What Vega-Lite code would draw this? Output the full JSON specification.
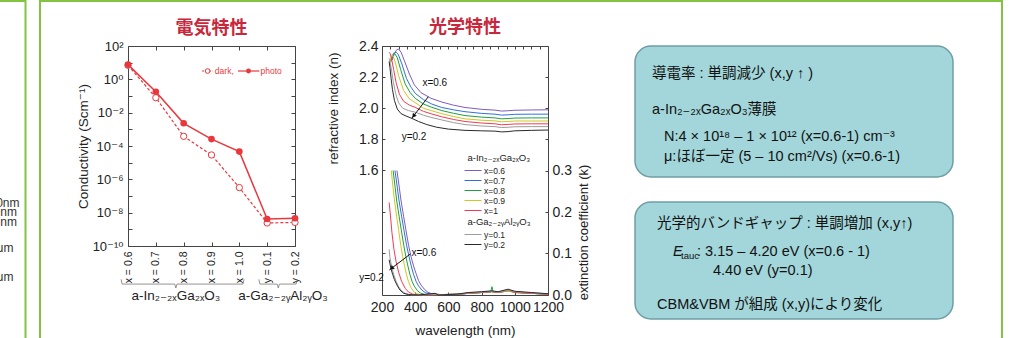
{
"$schema": "https://vega.github.io/schema/vega-lite/v6.json",
"background": "white",
"padding": {"left": -19, "top": 0, "right": 8, "bottom": -14},
"bounds": "flush",
"spacing": 14,
"config": {
  "view": {"stroke": null},
  "font": "Liberation Sans, DejaVu Sans, Noto Sans CJK JP",
  "axis": {"labelFont": "Liberation Sans, DejaVu Sans", "titleFont": "Liberation Sans, DejaVu Sans", "labelColor": "#222", "titleColor": "#222", "tickColor": "#444", "tickWidth": 1, "domain": false, "grid": false, "titleFontWeight": "normal", "labelFlush": false, "labelOverlap": false},
  "legend": {"labelFont": "Liberation Sans, DejaVu Sans", "titleFont": "Liberation Sans, DejaVu Sans"}
},
"datasets": {
  "nData": [
    {"s":"x=0.6","wl":262,"n":2.31},{"s":"x=0.6","wl":275,"n":2.355},{"s":"x=0.6","wl":290,"n":2.377},{"s":"x=0.6","wl":300,"n":2.38},{"s":"x=0.6","wl":315,"n":2.36},{"s":"x=0.6","wl":335,"n":2.305},{"s":"x=0.6","wl":365,"n":2.22},{"s":"x=0.6","wl":395,"n":2.15},{"s":"x=0.6","wl":435,"n":2.1},{"s":"x=0.6","wl":495,"n":2.064},{"s":"x=0.6","wl":560,"n":2.04},{"s":"x=0.6","wl":630,"n":2.02},{"s":"x=0.6","wl":700,"n":2.005},{"s":"x=0.6","wl":800,"n":1.993},{"s":"x=0.6","wl":880,"n":1.988},{"s":"x=0.6","wl":920,"n":1.982},{"s":"x=0.6","wl":960,"n":1.984},{"s":"x=0.6","wl":1000,"n":1.987},{"s":"x=0.6","wl":1100,"n":1.989},{"s":"x=0.6","wl":1200,"n":1.99},
    {"s":"x=0.7","wl":255,"n":2.3},{"s":"x=0.7","wl":266,"n":2.335},{"s":"x=0.7","wl":276,"n":2.355},{"s":"x=0.7","wl":285,"n":2.36},{"s":"x=0.7","wl":298,"n":2.345},{"s":"x=0.7","wl":318,"n":2.29},{"s":"x=0.7","wl":348,"n":2.19},{"s":"x=0.7","wl":375,"n":2.135},{"s":"x=0.7","wl":400,"n":2.096},{"s":"x=0.7","wl":450,"n":2.055},{"s":"x=0.7","wl":500,"n":2.027},{"s":"x=0.7","wl":560,"n":2.005},{"s":"x=0.7","wl":630,"n":1.99},{"s":"x=0.7","wl":700,"n":1.978},{"s":"x=0.7","wl":800,"n":1.967},{"s":"x=0.7","wl":880,"n":1.962},{"s":"x=0.7","wl":920,"n":1.956},{"s":"x=0.7","wl":960,"n":1.958},{"s":"x=0.7","wl":1000,"n":1.961},{"s":"x=0.7","wl":1100,"n":1.962},{"s":"x=0.7","wl":1200,"n":1.962},
    {"s":"x=0.8","wl":250,"n":2.3},{"s":"x=0.8","wl":260,"n":2.335},{"s":"x=0.8","wl":270,"n":2.353},{"s":"x=0.8","wl":278,"n":2.35},{"s":"x=0.8","wl":292,"n":2.325},{"s":"x=0.8","wl":312,"n":2.25},{"s":"x=0.8","wl":340,"n":2.155},{"s":"x=0.8","wl":370,"n":2.1},{"s":"x=0.8","wl":400,"n":2.064},{"s":"x=0.8","wl":450,"n":2.027},{"s":"x=0.8","wl":500,"n":2.006},{"s":"x=0.8","wl":560,"n":1.985},{"s":"x=0.8","wl":630,"n":1.968},{"s":"x=0.8","wl":700,"n":1.953},{"s":"x=0.8","wl":800,"n":1.943},{"s":"x=0.8","wl":880,"n":1.938},{"s":"x=0.8","wl":920,"n":1.932},{"s":"x=0.8","wl":960,"n":1.934},{"s":"x=0.8","wl":1000,"n":1.937},{"s":"x=0.8","wl":1100,"n":1.938},{"s":"x=0.8","wl":1200,"n":1.938},
    {"s":"x=0.9","wl":245,"n":2.29},{"s":"x=0.9","wl":252,"n":2.32},{"s":"x=0.9","wl":260,"n":2.34},{"s":"x=0.9","wl":268,"n":2.335},{"s":"x=0.9","wl":280,"n":2.295},{"s":"x=0.9","wl":300,"n":2.21},{"s":"x=0.9","wl":330,"n":2.115},{"s":"x=0.9","wl":365,"n":2.06},{"s":"x=0.9","wl":400,"n":2.036},{"s":"x=0.9","wl":450,"n":2.0},{"s":"x=0.9","wl":500,"n":1.984},{"s":"x=0.9","wl":560,"n":1.965},{"s":"x=0.9","wl":630,"n":1.947},{"s":"x=0.9","wl":700,"n":1.932},{"s":"x=0.9","wl":800,"n":1.923},{"s":"x=0.9","wl":880,"n":1.919},{"s":"x=0.9","wl":920,"n":1.913},{"s":"x=0.9","wl":960,"n":1.915},{"s":"x=0.9","wl":1000,"n":1.918},{"s":"x=0.9","wl":1100,"n":1.918},{"s":"x=0.9","wl":1200,"n":1.918},
    {"s":"x=1","wl":243,"n":2.36},{"s":"x=1","wl":250,"n":2.35},{"s":"x=1","wl":258,"n":2.315},{"s":"x=1","wl":270,"n":2.25},{"s":"x=1","wl":285,"n":2.165},{"s":"x=1","wl":305,"n":2.09},{"s":"x=1","wl":330,"n":2.045},{"s":"x=1","wl":365,"n":2.02},{"s":"x=1","wl":400,"n":2.006},{"s":"x=1","wl":450,"n":1.98},{"s":"x=1","wl":500,"n":1.963},{"s":"x=1","wl":560,"n":1.945},{"s":"x=1","wl":630,"n":1.928},{"s":"x=1","wl":700,"n":1.915},{"s":"x=1","wl":800,"n":1.905},{"s":"x=1","wl":880,"n":1.9},{"s":"x=1","wl":920,"n":1.894},{"s":"x=1","wl":960,"n":1.896},{"s":"x=1","wl":1000,"n":1.899},{"s":"x=1","wl":1100,"n":1.9},{"s":"x=1","wl":1200,"n":1.9},
    {"s":"y=0.1","wl":243,"n":2.32},{"s":"y=0.1","wl":250,"n":2.29},{"s":"y=0.1","wl":258,"n":2.24},{"s":"y=0.1","wl":268,"n":2.17},{"s":"y=0.1","wl":282,"n":2.095},{"s":"y=0.1","wl":300,"n":2.035},{"s":"y=0.1","wl":325,"n":2.0},{"s":"y=0.1","wl":360,"n":1.985},{"s":"y=0.1","wl":400,"n":1.975},{"s":"y=0.1","wl":450,"n":1.955},{"s":"y=0.1","wl":500,"n":1.94},{"s":"y=0.1","wl":560,"n":1.925},{"s":"y=0.1","wl":630,"n":1.908},{"s":"y=0.1","wl":700,"n":1.895},{"s":"y=0.1","wl":800,"n":1.886},{"s":"y=0.1","wl":880,"n":1.882},{"s":"y=0.1","wl":920,"n":1.876},{"s":"y=0.1","wl":960,"n":1.878},{"s":"y=0.1","wl":1000,"n":1.881},{"s":"y=0.1","wl":1100,"n":1.882},{"s":"y=0.1","wl":1200,"n":1.882},
    {"s":"y=0.2","wl":243,"n":2.3},{"s":"y=0.2","wl":248,"n":2.26},{"s":"y=0.2","wl":255,"n":2.19},{"s":"y=0.2","wl":263,"n":2.12},{"s":"y=0.2","wl":275,"n":2.05},{"s":"y=0.2","wl":292,"n":1.995},{"s":"y=0.2","wl":315,"n":1.965},{"s":"y=0.2","wl":345,"n":1.95},{"s":"y=0.2","wl":380,"n":1.935},{"s":"y=0.2","wl":420,"n":1.915},{"s":"y=0.2","wl":470,"n":1.895},{"s":"y=0.2","wl":530,"n":1.878},{"s":"y=0.2","wl":600,"n":1.866},{"s":"y=0.2","wl":700,"n":1.858},{"s":"y=0.2","wl":800,"n":1.855},{"s":"y=0.2","wl":880,"n":1.853},{"s":"y=0.2","wl":920,"n":1.848},{"s":"y=0.2","wl":960,"n":1.85},{"s":"y=0.2","wl":1000,"n":1.855},{"s":"y=0.2","wl":1100,"n":1.858},{"s":"y=0.2","wl":1200,"n":1.86}
  ],
  "kData": [
    {"s":"x=0.6","wl":290,"k":0.3},{"s":"x=0.6","wl":304,"k":0.26},{"s":"x=0.6","wl":314,"k":0.229},{"s":"x=0.6","wl":330,"k":0.19},{"s":"x=0.6","wl":344,"k":0.157},{"s":"x=0.6","wl":360,"k":0.12},{"s":"x=0.6","wl":375,"k":0.092},{"s":"x=0.6","wl":390,"k":0.07},{"s":"x=0.6","wl":405,"k":0.052},{"s":"x=0.6","wl":420,"k":0.035},{"s":"x=0.6","wl":435,"k":0.024},{"s":"x=0.6","wl":455,"k":0.014},{"s":"x=0.6","wl":475,"k":0.007},{"s":"x=0.6","wl":500,"k":0.003},{"s":"x=0.6","wl":560,"k":0.001},{"s":"x=0.6","wl":650,"k":0.001},{"s":"x=0.6","wl":720,"k":0.004},{"s":"x=0.6","wl":800,"k":0.006},{"s":"x=0.6","wl":860,"k":0.008},{"s":"x=0.6","wl":900,"k":0.006},{"s":"x=0.6","wl":960,"k":0.01},{"s":"x=0.6","wl":1000,"k":0.007},{"s":"x=0.6","wl":1100,"k":0.004},{"s":"x=0.6","wl":1200,"k":0.002},
    {"s":"x=0.7","wl":278,"k":0.3},{"s":"x=0.7","wl":292,"k":0.26},{"s":"x=0.7","wl":302,"k":0.229},{"s":"x=0.7","wl":318,"k":0.19},{"s":"x=0.7","wl":332,"k":0.157},{"s":"x=0.7","wl":348,"k":0.12},{"s":"x=0.7","wl":363,"k":0.092},{"s":"x=0.7","wl":376,"k":0.07},{"s":"x=0.7","wl":390,"k":0.05},{"s":"x=0.7","wl":405,"k":0.033},{"s":"x=0.7","wl":420,"k":0.022},{"s":"x=0.7","wl":440,"k":0.012},{"s":"x=0.7","wl":460,"k":0.006},{"s":"x=0.7","wl":490,"k":0.002},{"s":"x=0.7","wl":560,"k":0.001},{"s":"x=0.7","wl":650,"k":0.001},{"s":"x=0.7","wl":720,"k":0.004},{"s":"x=0.7","wl":800,"k":0.006},{"s":"x=0.7","wl":860,"k":0.009},{"s":"x=0.7","wl":900,"k":0.006},{"s":"x=0.7","wl":960,"k":0.011},{"s":"x=0.7","wl":1000,"k":0.007},{"s":"x=0.7","wl":1100,"k":0.004},{"s":"x=0.7","wl":1200,"k":0.002},
    {"s":"x=0.8","wl":267,"k":0.3},{"s":"x=0.8","wl":279,"k":0.26},{"s":"x=0.8","wl":288,"k":0.229},{"s":"x=0.8","wl":303,"k":0.19},{"s":"x=0.8","wl":316,"k":0.157},{"s":"x=0.8","wl":331,"k":0.12},{"s":"x=0.8","wl":344,"k":0.092},{"s":"x=0.8","wl":356,"k":0.07},{"s":"x=0.8","wl":368,"k":0.05},{"s":"x=0.8","wl":381,"k":0.033},{"s":"x=0.8","wl":395,"k":0.021},{"s":"x=0.8","wl":412,"k":0.011},{"s":"x=0.8","wl":430,"k":0.005},{"s":"x=0.8","wl":460,"k":0.001},{"s":"x=0.8","wl":560,"k":0.001},{"s":"x=0.8","wl":650,"k":0.002},{"s":"x=0.8","wl":720,"k":0.004},{"s":"x=0.8","wl":800,"k":0.006},{"s":"x=0.8","wl":855,"k":0.007},{"s":"x=0.8","wl":862,"k":0.02},{"s":"x=0.8","wl":870,"k":0.007},{"s":"x=0.8","wl":900,"k":0.006},{"s":"x=0.8","wl":960,"k":0.01},{"s":"x=0.8","wl":1000,"k":0.006},{"s":"x=0.8","wl":1100,"k":0.004},{"s":"x=0.8","wl":1200,"k":0.002},
    {"s":"x=0.9","wl":256,"k":0.3},{"s":"x=0.9","wl":266,"k":0.26},{"s":"x=0.9","wl":275,"k":0.229},{"s":"x=0.9","wl":288,"k":0.19},{"s":"x=0.9","wl":300,"k":0.157},{"s":"x=0.9","wl":313,"k":0.12},{"s":"x=0.9","wl":325,"k":0.092},{"s":"x=0.9","wl":336,"k":0.07},{"s":"x=0.9","wl":347,"k":0.05},{"s":"x=0.9","wl":359,"k":0.033},{"s":"x=0.9","wl":372,"k":0.02},{"s":"x=0.9","wl":387,"k":0.01},{"s":"x=0.9","wl":403,"k":0.004},{"s":"x=0.9","wl":430,"k":0.001},{"s":"x=0.9","wl":560,"k":0.001},{"s":"x=0.9","wl":650,"k":0.002},{"s":"x=0.9","wl":720,"k":0.004},{"s":"x=0.9","wl":800,"k":0.006},{"s":"x=0.9","wl":860,"k":0.008},{"s":"x=0.9","wl":900,"k":0.006},{"s":"x=0.9","wl":960,"k":0.01},{"s":"x=0.9","wl":1000,"k":0.006},{"s":"x=0.9","wl":1100,"k":0.004},{"s":"x=0.9","wl":1200,"k":0.002},
    {"s":"x=1","wl":243,"k":0.223},{"s":"x=1","wl":250,"k":0.195},{"s":"x=1","wl":260,"k":0.15},{"s":"x=1","wl":272,"k":0.11},{"s":"x=1","wl":285,"k":0.08},{"s":"x=1","wl":300,"k":0.055},{"s":"x=1","wl":318,"k":0.033},{"s":"x=1","wl":340,"k":0.016},{"s":"x=1","wl":360,"k":0.007},{"s":"x=1","wl":385,"k":0.002},{"s":"x=1","wl":420,"k":0.0},{"s":"x=1","wl":560,"k":0.001},{"s":"x=1","wl":650,"k":0.002},{"s":"x=1","wl":720,"k":0.004},{"s":"x=1","wl":800,"k":0.006},{"s":"x=1","wl":860,"k":0.008},{"s":"x=1","wl":900,"k":0.006},{"s":"x=1","wl":960,"k":0.012},{"s":"x=1","wl":1000,"k":0.006},{"s":"x=1","wl":1100,"k":0.004},{"s":"x=1","wl":1200,"k":0.002},
    {"s":"y=0.1","wl":243,"k":0.11},{"s":"y=0.1","wl":248,"k":0.09},{"s":"y=0.1","wl":255,"k":0.075},{"s":"y=0.1","wl":262,"k":0.062},{"s":"y=0.1","wl":272,"k":0.048},{"s":"y=0.1","wl":285,"k":0.033},{"s":"y=0.1","wl":300,"k":0.02},{"s":"y=0.1","wl":320,"k":0.009},{"s":"y=0.1","wl":345,"k":0.003},{"s":"y=0.1","wl":380,"k":0.0},{"s":"y=0.1","wl":560,"k":0.001},{"s":"y=0.1","wl":650,"k":0.002},{"s":"y=0.1","wl":720,"k":0.005},{"s":"y=0.1","wl":800,"k":0.007},{"s":"y=0.1","wl":860,"k":0.009},{"s":"y=0.1","wl":900,"k":0.007},{"s":"y=0.1","wl":960,"k":0.012},{"s":"y=0.1","wl":1000,"k":0.008},{"s":"y=0.1","wl":1100,"k":0.005},{"s":"y=0.1","wl":1200,"k":0.003},
    {"s":"y=0.2","wl":243,"k":0.085},{"s":"y=0.2","wl":248,"k":0.075},{"s":"y=0.2","wl":255,"k":0.062},{"s":"y=0.2","wl":264,"k":0.05},{"s":"y=0.2","wl":275,"k":0.037},{"s":"y=0.2","wl":290,"k":0.024},{"s":"y=0.2","wl":308,"k":0.012},{"s":"y=0.2","wl":330,"k":0.004},{"s":"y=0.2","wl":360,"k":0.001},{"s":"y=0.2","wl":420,"k":0.0},{"s":"y=0.2","wl":520,"k":0.004},{"s":"y=0.2","wl":540,"k":0.0},{"s":"y=0.2","wl":650,"k":0.002},{"s":"y=0.2","wl":720,"k":0.006},{"s":"y=0.2","wl":800,"k":0.008},{"s":"y=0.2","wl":860,"k":0.01},{"s":"y=0.2","wl":900,"k":0.008},{"s":"y=0.2","wl":960,"k":0.014},{"s":"y=0.2","wl":1000,"k":0.009},{"s":"y=0.2","wl":1100,"k":0.006},{"s":"y=0.2","wl":1200,"k":0.003}
  ]
},
"hconcat": [
 {
  "width": 43.5, "height": 350,
  "view": {"stroke": "#82c341", "strokeWidth": 2},
  "data": {"values": [
    {"t": "100nm", "line": 20.2, "u": "a"},
    {"t": "20 nm", "line": 21.1, "u": "nm"},
    {"t": "50 nm", "line": 22.1, "u": "nm"},
    {"t": "1 μm", "line": 24.7, "u": "um"},
    {"t": "10 μm", "line": 27.6, "u": "um"}
  ]},
  "layer": [
   {"transform": [{"filter": "datum.u == 'a'"}],
    "mark": {"type": "text", "align": "right", "baseline": "middle", "dx": -6, "fontSize": 12, "color": "#333", "clip": true},
    "encoding": {"x": {"datum": 1, "type": "quantitative", "scale": {"domain": [0, 1]}, "axis": null}, "y": {"field": "line", "type": "quantitative", "scale": {"domain": [0, 35], "reverse": true}, "axis": null}, "text": {"field": "t"}}},
   {"transform": [{"filter": "datum.u == 'nm'"}],
    "mark": {"type": "text", "align": "right", "baseline": "middle", "dx": -8.5, "fontSize": 12, "color": "#333", "clip": true},
    "encoding": {"x": {"datum": 1, "type": "quantitative", "scale": {"domain": [0, 1]}, "axis": null}, "y": {"field": "line", "type": "quantitative", "scale": {"domain": [0, 35], "reverse": true}, "axis": null}, "text": {"field": "t"}}},
   {"transform": [{"filter": "datum.u == 'um'"}],
    "mark": {"type": "text", "align": "right", "baseline": "middle", "dx": -12, "fontSize": 12, "color": "#333", "clip": true},
    "encoding": {"x": {"datum": 1, "type": "quantitative", "scale": {"domain": [0, 1]}, "axis": null}, "y": {"field": "line", "type": "quantitative", "scale": {"domain": [0, 35], "reverse": true}, "axis": null}, "text": {"field": "t"}}}
  ]
 },
 {
  "bounds": "flush", "align": "none", "spacing": -305,
  "vconcat": [
   {"width": 962, "height": 350, "view": {"stroke": "#82c341", "strokeWidth": 2}, "data": {"values": []}, "mark": "point"},
   {
    "bounds": "flush", "spacing": 87,
    "hconcat": [
     {"width": 0.5, "height": 10, "data": {"values": []}, "mark": "point"},
     {
      "width": 167, "height": 200,
      "view": {"stroke": "#444", "strokeWidth": 1},
      "title": {"text": "電気特性", "font": "Noto Sans CJK JP", "fontSize": 18, "fontWeight": "bold", "color": "#c8283c", "frame": "group", "offset": 3, "dy": 1},
      "data": {"values": [
        {"i":0,"mode":"dark","sigma":7.0},{"i":1,"mode":"dark","sigma":0.079},{"i":2,"mode":"dark","sigma":3.8e-4},{"i":3,"mode":"dark","sigma":2.9e-5},{"i":4,"mode":"dark","sigma":3.2e-7},{"i":5,"mode":"dark","sigma":2.4e-9},{"i":6,"mode":"dark","sigma":2.6e-9},
        {"i":0,"mode":"photo","sigma":7.6},{"i":1,"mode":"photo","sigma":0.18},{"i":2,"mode":"photo","sigma":2.3e-3},{"i":3,"mode":"photo","sigma":2.6e-4},{"i":4,"mode":"photo","sigma":4.6e-5},{"i":5,"mode":"photo","sigma":4.2e-9},{"i":6,"mode":"photo","sigma":4.6e-9}
      ]},
      "resolve": {"axis": {"x": "independent", "y": "independent"}},
      "layer": [
       {"transform": [{"filter": "datum.mode == 'dark'"}],
        "mark": {"type": "line", "color": "#e8383d", "strokeWidth": 1.2, "strokeDash": [3, 2]},
        "encoding": {
          "x": {"field": "i", "type": "quantitative", "scale": {"domain": [0, 6], "nice": false, "zero": false},
                "axis": {"orient": "bottom", "values": [0,1,2,3,4,5,6], "labelExpr": "['x = 0.6','x = 0.7','x = 0.8','x = 0.9','x = 1.0','y = 0.1','y = 0.2'][datum.value]", "labelAngle": -90, "labelFontSize": 10.5, "tickSize": -4, "labelPadding": 9, "title": null}},
          "y": {"field": "sigma", "type": "quantitative", "scale": {"type": "log", "domain": [1e-10, 100], "nice": false},
                "axis": {"orient": "left", "values": [1e-10,1e-9,1e-8,1e-7,1e-6,1e-5,1e-4,1e-3,1e-2,1e-1,1,10,100], "labelExpr": "round(log(datum.value)/LN10) == 2 ? '10²' : round(log(datum.value)/LN10) == 0 ? '10⁰' : round(log(datum.value)/LN10) == -2 ? '10⁻²' : round(log(datum.value)/LN10) == -4 ? '10⁻⁴' : round(log(datum.value)/LN10) == -6 ? '10⁻⁶' : round(log(datum.value)/LN10) == -8 ? '10⁻⁸' : round(log(datum.value)/LN10) == -10 ? '10⁻¹⁰' : ''", "labelFontSize": 13, "tickSize": -4, "labelPadding": 9, "title": "Conductivity (Scm⁻¹)", "titleFontSize": 13.5, "titlePadding": 2}}
        }},
       {"transform": [{"filter": "datum.mode == 'photo'"}],
        "mark": {"type": "line", "color": "#e8383d", "strokeWidth": 1.5},
        "encoding": {
          "x": {"field": "i", "type": "quantitative", "scale": {"domain": [0, 6], "nice": false, "zero": false},
                "axis": {"orient": "top", "values": [0,1,2,3,4,5,6], "labels": false, "tickSize": -4, "title": null}},
          "y": {"field": "sigma", "type": "quantitative", "scale": {"type": "log", "domain": [1e-10, 100], "nice": false},
                "axis": {"orient": "right", "values": [1e-10,1e-9,1e-8,1e-7,1e-6,1e-5,1e-4,1e-3,1e-2,1e-1,1,10,100], "labels": false, "tickSize": -4, "title": null}}
        }},
       {"transform": [{"filter": "datum.mode == 'dark'"}],
        "mark": {"type": "point", "shape": "circle", "filled": true, "fill": "white", "stroke": "#e8383d", "strokeWidth": 1, "size": 40, "opacity": 1},
        "encoding": {
          "x": {"field": "i", "type": "quantitative", "scale": {"domain": [0, 6], "nice": false, "zero": false}, "axis": null},
          "y": {"field": "sigma", "type": "quantitative", "scale": {"type": "log", "domain": [1e-10, 100], "nice": false}, "axis": null}
        }},
       {"transform": [{"filter": "datum.mode == 'photo'"}],
        "mark": {"type": "circle", "color": "#e8383d", "size": 44, "opacity": 1},
        "encoding": {
          "x": {"field": "i", "type": "quantitative", "scale": {"domain": [0, 6], "nice": false, "zero": false}, "axis": null},
          "y": {"field": "sigma", "type": "quantitative", "scale": {"type": "log", "domain": [1e-10, 100], "nice": false}, "axis": null}
        }},
       {"data": {"values": [{}]},
        "mark": {"type": "rule", "color": "#e8383d", "strokeWidth": 1, "strokeDash": [2, 1.5]},
        "encoding": {"x": {"datum": 2.66, "type": "quantitative", "axis": null}, "x2": {"datum": 3.05}, "y": {"datum": 3.16, "type": "quantitative", "axis": null}}},
       {"data": {"values": [{}]},
        "mark": {"type": "point", "shape": "circle", "filled": true, "fill": "white", "stroke": "#e8383d", "strokeWidth": 1, "size": 22, "opacity": 1},
        "encoding": {"x": {"datum": 2.86, "type": "quantitative", "axis": null}, "y": {"datum": 3.16, "type": "quantitative", "axis": null}}},
       {"data": {"values": [{}]},
        "mark": {"type": "text", "text": "dark,", "align": "left", "baseline": "middle", "fontSize": 8.5, "color": "#e8383d"},
        "encoding": {"x": {"datum": 3.12, "type": "quantitative", "axis": null}, "y": {"datum": 3.16, "type": "quantitative", "axis": null}}},
       {"data": {"values": [{}]},
        "mark": {"type": "rule", "color": "#e8383d", "strokeWidth": 1.2},
        "encoding": {"x": {"datum": 3.95, "type": "quantitative", "axis": null}, "x2": {"datum": 4.72}, "y": {"datum": 3.16, "type": "quantitative", "axis": null}}},
       {"data": {"values": [{}]},
        "mark": {"type": "circle", "color": "#e8383d", "size": 24, "opacity": 1},
        "encoding": {"x": {"datum": 4.33, "type": "quantitative", "axis": null}, "y": {"datum": 3.16, "type": "quantitative", "axis": null}}},
       {"data": {"values": [{}]},
        "mark": {"type": "text", "text": "photo", "align": "left", "baseline": "middle", "fontSize": 8.5, "color": "#e8383d"},
        "encoding": {"x": {"datum": 4.76, "type": "quantitative", "axis": null}, "y": {"datum": 3.16, "type": "quantitative", "axis": null}}},
       {"data": {"values": [
          {"g":"In","k":0,"i":-0.25,"sigma":1.0e-12},{"g":"In","k":1,"i":-0.21,"sigma":5.2e-13},{"g":"In","k":2,"i":1.68,"sigma":5.2e-13},{"g":"In","k":3,"i":1.72,"sigma":3.0e-13},{"g":"In","k":4,"i":1.76,"sigma":5.2e-13},{"g":"In","k":5,"i":4.13,"sigma":5.2e-13},{"g":"In","k":6,"i":4.17,"sigma":1.0e-12},
          {"g":"Ga","k":0,"i":4.7,"sigma":1.0e-12},{"g":"Ga","k":1,"i":4.74,"sigma":5.2e-13},{"g":"Ga","k":2,"i":5.36,"sigma":5.2e-13},{"g":"Ga","k":3,"i":5.4,"sigma":3.0e-13},{"g":"Ga","k":4,"i":5.44,"sigma":5.2e-13},{"g":"Ga","k":5,"i":6.04,"sigma":5.2e-13},{"g":"Ga","k":6,"i":6.08,"sigma":1.0e-12}
        ]},
        "mark": {"type": "line", "color": "#777", "strokeWidth": 0.8},
        "encoding": {
          "x": {"field": "i", "type": "quantitative", "axis": null},
          "y": {"field": "sigma", "type": "quantitative", "axis": null},
          "detail": {"field": "g"},
          "order": {"field": "k"}
        }},
       {"data": {"values": [
          {"label": "a-In₂₋₂ₓGa₂ₓO₃", "i": 1.72, "sigma": 1e-13},
          {"label": "a-Ga₂₋₂ᵧAl₂ᵧO₃", "i": 5.57, "sigma": 1e-13}
        ]},
        "mark": {"type": "text", "align": "center", "baseline": "middle", "fontSize": 13.5, "color": "#222"},
        "encoding": {
          "x": {"field": "i", "type": "quantitative", "axis": null},
          "y": {"field": "sigma", "type": "quantitative", "axis": null},
          "text": {"field": "label"}
        }}
      ]
     },
     {
      "width": 166, "height": 249,
      "view": {"stroke": "#444", "strokeWidth": 1},
      "title": {"text": "光学特性", "font": "Noto Sans CJK JP", "fontSize": 18, "fontWeight": "bold", "color": "#c8283c", "frame": "group", "offset": 3, "dy": 1},
      "resolve": {"scale": {"y": "independent", "color": "independent"}, "axis": {"x": "independent", "y": "independent"}, "legend": {"color": "independent"}},
      "layer": [
       {"data": {"name": "nData"}, "transform": [{"filter": "substring(datum.s, 0, 1) == 'x'"}],
        "mark": {"type": "line", "strokeWidth": 1},
        "encoding": {
          "x": {"field": "wl", "type": "quantitative", "scale": {"domain": [200, 1200], "nice": false, "zero": false},
                "axis": {"orient": "bottom", "values": [200,400,600,800,1000,1200], "format": "d", "labelFontSize": 14, "tickSize": -3, "labelPadding": 8, "title": "wavelength (nm)", "titleFontSize": 13.5, "titlePadding": 9,
                         "encode": {"labels": {"update": {"dx": {"signal": "datum.value == 1200 ? -9 : datum.value == 1000 ? -5 : datum.value == 800 ? 2 : 0"}}}}}},
          "y": {"field": "n", "type": "quantitative", "scale": {"domain": [0.8, 2.4], "nice": false, "zero": false},
                "axis": {"orient": "left", "values": [1.0667, 1.3333, 1.6, 1.8, 2.0, 2.2, 2.4], "labelExpr": "datum.value < 1.5 ? '' : format(datum.value, '.1f')", "labelFontSize": 14, "tickSize": -3, "labelPadding": 7, "title": "refractive index (n)", "titleFontSize": 13.5, "titlePadding": 18, "titleY": 62}},
          "color": {"field": "s", "type": "nominal",
                    "scale": {"domain": ["x=0.6","x=0.7","x=0.8","x=0.9","x=1"], "range": ["#7f5cc0","#2f72d6","#1fa040","#cfc820","#ef3b55"]},
                    "legend": {"title": "a-In₂₋₂ₓGa₂ₓO₃", "orient": "none", "legendX": 85.5, "legendY": 107, "titleFontSize": 9.5, "titleFontWeight": "normal", "titleColor": "#222", "titlePadding": 2.5, "labelFontSize": 8.5, "labelColor": "#222", "symbolType": "M-1.7,0H1.7", "symbolSize": 100, "symbolStrokeWidth": 1, "rowPadding": 0, "padding": 0, "labelOffset": 5.5}}
        }},
       {"data": {"name": "kData"}, "transform": [{"filter": "substring(datum.s, 0, 1) == 'x'"}],
        "mark": {"type": "line", "strokeWidth": 1},
        "encoding": {
          "x": {"field": "wl", "type": "quantitative", "scale": {"domain": [200, 1200], "nice": false, "zero": false},
                "axis": {"orient": "top", "values": [200,250,300,350,400,450,500,550,600,650,700,750,800,850,900,950,1000,1050,1100,1150,1200], "labels": false, "tickSize": -3, "title": null}},
          "y": {"field": "k", "type": "quantitative", "scale": {"domain": [0, 0.6], "nice": false, "zero": false},
                "axis": {"orient": "right", "values": [0, 0.1, 0.2, 0.3, 0.375, 0.45, 0.525], "labelExpr": "datum.value > 0.31 ? '' : format(datum.value, '.1f')", "labelFontSize": 14, "tickSize": -3, "labelPadding": 7, "title": "extinction coefficient (k)", "titleFontSize": 13, "titleAngle": 270, "titleBaseline": "top", "titlePadding": 6, "titleY": 186}},
          "color": {"field": "s", "type": "nominal",
                    "scale": {"domain": ["x=0.6","x=0.7","x=0.8","x=0.9","x=1"], "range": ["#7f5cc0","#2f72d6","#1fa040","#cfc820","#ef3b55"]},
                    "legend": null}
        }},
       {"data": {"name": "nData"}, "transform": [{"filter": "substring(datum.s, 0, 1) == 'y'"}],
        "mark": {"type": "line", "strokeWidth": 1},
        "encoding": {
          "x": {"field": "wl", "type": "quantitative", "axis": null},
          "y": {"field": "n", "type": "quantitative", "scale": {"domain": [0.8, 2.4], "nice": false, "zero": false}, "axis": null},
          "color": {"field": "s", "type": "nominal",
                    "scale": {"domain": ["y=0.1","y=0.2"], "range": ["#9c9c9c","#2a2a2a"]},
                    "legend": {"title": "a-Ga₂₋₂ᵧAl₂ᵧO₃", "orient": "none", "legendX": 85.5, "legendY": 171, "titleFontSize": 9.5, "titleFontWeight": "normal", "titleColor": "#222", "titlePadding": 2.5, "labelFontSize": 8.5, "labelColor": "#222", "symbolType": "M-1.7,0H1.7", "symbolSize": 100, "symbolStrokeWidth": 1, "rowPadding": 0, "padding": 0, "labelOffset": 5.5}}
        }},
       {"data": {"name": "kData"}, "transform": [{"filter": "substring(datum.s, 0, 1) == 'y'"}],
        "mark": {"type": "line", "strokeWidth": 1},
        "encoding": {
          "x": {"field": "wl", "type": "quantitative", "axis": null},
          "y": {"field": "k", "type": "quantitative", "scale": {"domain": [0, 0.6], "nice": false, "zero": false}, "axis": null},
          "color": {"field": "s", "type": "nominal",
                    "scale": {"domain": ["y=0.1","y=0.2"], "range": ["#9c9c9c","#2a2a2a"]},
                    "legend": null}
        }},
       {"data": {"values": [{}]},
        "mark": {"type": "rule", "color": "#111", "strokeWidth": 1},
        "encoding": {"x": {"datum": 479, "type": "quantitative", "axis": null}, "x2": {"datum": 379}, "y": {"datum": 2.074, "type": "quantitative", "scale": {"domain": [0.8, 2.4], "nice": false, "zero": false}, "axis": null}, "y2": {"datum": 1.935}}},
       {"data": {"values": [{}]},
        "mark": {"type": "point", "shape": "triangle-up", "filled": true, "color": "#111", "size": 24, "angle": 217.5, "opacity": 1},
        "encoding": {"x": {"datum": 390, "type": "quantitative", "axis": null}, "y": {"datum": 1.95, "type": "quantitative", "scale": {"domain": [0.8, 2.4], "nice": false, "zero": false}, "axis": null}}},
       {"data": {"values": [{}]},
        "mark": {"type": "rule", "color": "#111", "strokeWidth": 1},
        "encoding": {"x": {"datum": 370.5, "type": "quantitative", "axis": null}, "x2": {"datum": 244}, "y": {"datum": 0.0988, "type": "quantitative", "scale": {"domain": [0, 0.6], "nice": false, "zero": false}, "axis": null}, "y2": {"datum": 0.0602}}},
       {"data": {"values": [{}]},
        "mark": {"type": "point", "shape": "triangle-up", "filled": true, "color": "#111", "size": 24, "angle": 232.7, "opacity": 1},
        "encoding": {"x": {"datum": 258, "type": "quantitative", "axis": null}, "y": {"datum": 0.0645, "type": "quantitative", "scale": {"domain": [0, 0.6], "nice": false, "zero": false}, "axis": null}}},
       {"data": {"values": [{"t": "x=0.6", "wl": 518, "v": 2.16}, {"t": "y=0.2", "wl": 393, "v": 1.817}]},
        "mark": {"type": "text", "align": "center", "baseline": "middle", "fontSize": 10, "color": "#111"},
        "encoding": {"x": {"field": "wl", "type": "quantitative", "axis": null}, "y": {"field": "v", "type": "quantitative", "scale": {"domain": [0.8, 2.4], "nice": false, "zero": false}, "axis": null}, "text": {"field": "t"}}},
       {"data": {"values": [{"t": "x=0.6", "wl": 452, "v": 0.1005}, {"t": "y=0.2", "wl": 137, "v": 0.04}]},
        "mark": {"type": "text", "align": "center", "baseline": "middle", "fontSize": 10, "color": "#111"},
        "encoding": {"x": {"field": "wl", "type": "quantitative", "axis": null}, "y": {"field": "v", "type": "quantitative", "scale": {"domain": [0, 0.6], "nice": false, "zero": false}, "axis": null}, "text": {"field": "t"}}}
      ]
     },
     {
      "bounds": "flush", "spacing": 25,
      "vconcat": [
       {
        "width": 318, "height": 131,
        "view": {"fill": "#a2d6da", "stroke": "#6d9ea5", "strokeWidth": 1.5, "cornerRadius": 16},
        "layer": [
         {"data": {"values": [{"t": "導電率 : 単調減少 (x,y   ↑ )", "line": 2.96}, {"t": "a-In₂₋₂ₓGa₂ₓO₃薄膜", "line": 6.84}]},
          "mark": {"type": "text", "align": "left", "baseline": "middle", "dx": 17, "fontSize": 14.5, "color": "#111"},
          "encoding": {"x": {"datum": 0, "type": "quantitative", "scale": {"domain": [0, 1]}, "axis": null}, "y": {"field": "line", "type": "quantitative", "scale": {"domain": [0, 14], "reverse": true}, "axis": null}, "text": {"field": "t"}}},
         {"data": {"values": [{"t": "N:4 × 10¹⁸ – 1 × 10¹² (x=0.6-1) cm⁻³", "line": 9.73}, {"t": "μ:ほぼ一定 (5 – 10 cm²/Vs) (x=0.6-1)", "line": 11.86}]},
          "mark": {"type": "text", "align": "left", "baseline": "middle", "dx": 29, "fontSize": 14.5, "color": "#111"},
          "encoding": {"x": {"datum": 0, "type": "quantitative", "scale": {"domain": [0, 1]}, "axis": null}, "y": {"field": "line", "type": "quantitative", "scale": {"domain": [0, 14], "reverse": true}, "axis": null}, "text": {"field": "t"}}}
        ]
       },
       {
        "width": 318, "height": 117,
        "view": {"fill": "#a2d6da", "stroke": "#6d9ea5", "strokeWidth": 1.5, "cornerRadius": 16},
        "layer": [
         {"data": {"values": [{"t": "光学的バンドギャップ : 単調増加  (x,y↑)", "line": 2.35}, {"t": "CBM&VBM が組成 (x,y)により変化", "line": 11.0}]},
          "mark": {"type": "text", "align": "left", "baseline": "middle", "dx": 22, "fontSize": 14.5, "color": "#111"},
          "encoding": {"x": {"datum": 0, "type": "quantitative", "scale": {"domain": [0, 1]}, "axis": null}, "y": {"field": "line", "type": "quantitative", "scale": {"domain": [0, 12.5], "reverse": true}, "axis": null}, "text": {"field": "t"}}},
         {"data": {"values": [{"t": "E", "line": 5.34}]},
          "mark": {"type": "text", "align": "left", "baseline": "middle", "dx": 38, "fontSize": 14.5, "fontStyle": "italic", "color": "#111"},
          "encoding": {"x": {"datum": 0, "type": "quantitative", "scale": {"domain": [0, 1]}, "axis": null}, "y": {"field": "line", "type": "quantitative", "scale": {"domain": [0, 12.5], "reverse": true}, "axis": null}, "text": {"field": "t"}}},
         {"data": {"values": [{"t": "tauc", "line": 5.34}]},
          "mark": {"type": "text", "align": "left", "baseline": "middle", "dx": 46, "dy": 4, "fontSize": 9.5, "color": "#111"},
          "encoding": {"x": {"datum": 0, "type": "quantitative", "scale": {"domain": [0, 1]}, "axis": null}, "y": {"field": "line", "type": "quantitative", "scale": {"domain": [0, 12.5], "reverse": true}, "axis": null}, "text": {"field": "t"}}},
         {"data": {"values": [{"t": ": 3.15 – 4.20 eV (x=0.6 - 1)", "line": 5.34}]},
          "mark": {"type": "text", "align": "left", "baseline": "middle", "dx": 62, "fontSize": 14.5, "color": "#111"},
          "encoding": {"x": {"datum": 0, "type": "quantitative", "scale": {"domain": [0, 1]}, "axis": null}, "y": {"field": "line", "type": "quantitative", "scale": {"domain": [0, 12.5], "reverse": true}, "axis": null}, "text": {"field": "t"}}},
         {"data": {"values": [{"t": "4.40 eV (y=0.1)", "line": 7.37}]},
          "mark": {"type": "text", "align": "left", "baseline": "middle", "dx": 78, "fontSize": 14.5, "color": "#111"},
          "encoding": {"x": {"datum": 0, "type": "quantitative", "scale": {"domain": [0, 1]}, "axis": null}, "y": {"field": "line", "type": "quantitative", "scale": {"domain": [0, 12.5], "reverse": true}, "axis": null}, "text": {"field": "t"}}}
        ]
       }
      ]
     }
    ]
   }
  ]
 }
]
}
